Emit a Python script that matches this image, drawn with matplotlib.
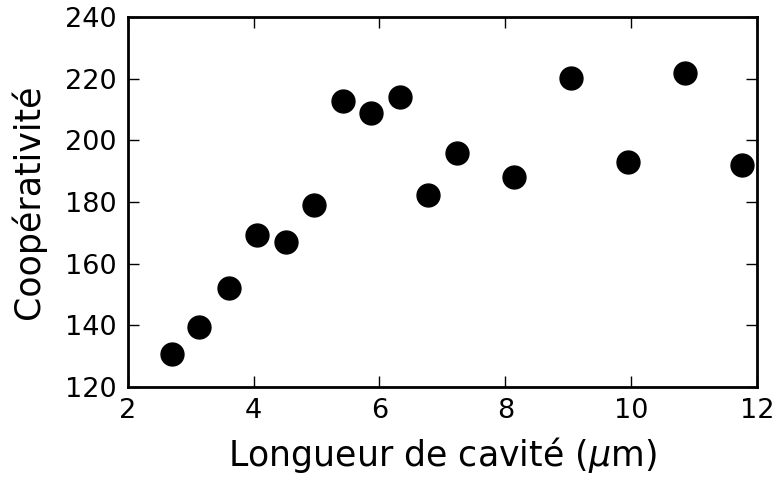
import matplotlib
matplotlib.use("Agg")
import matplotlib.pyplot as plt

longueur = [2.70, 3.14, 3.61, 4.05, 4.51, 4.96, 5.42, 5.86, 6.32, 6.77, 7.23, 8.14, 9.04, 9.95, 10.86, 11.76]
cooperativite = [130.7, 139.5, 152.1, 169.3, 167.0, 179.0, 212.8, 208.8, 214.1, 182.3, 195.9, 188.1, 220.2, 193.0, 221.8, 192.0]

fig = plt.figure(figsize=(7.74, 4.79), dpi=100)
ax = fig.add_axes([0.165, 0.192, 0.813, 0.7725])
ax.plot(longueur, cooperativite, 'o', color='black', markersize=16.5, clip_on=False)
ax.set_xlim(2, 12)
ax.set_ylim(120, 240)
ax.set_xticks([2, 4, 6, 8, 10, 12])
ax.set_yticks([120, 140, 160, 180, 200, 220, 240])
ax.tick_params(direction='in', top=True, right=True, length=8, width=1, labelsize=19.5, pad=8)
for s in ax.spines.values():
    s.set_linewidth(2)
ax.set_xlabel(r'Longueur de cavité ($\mu$m)', fontsize=25, labelpad=8)
ax.set_ylabel('Coopérativité', fontsize=25, labelpad=14)
fig.savefig('out.png', dpi=100)
